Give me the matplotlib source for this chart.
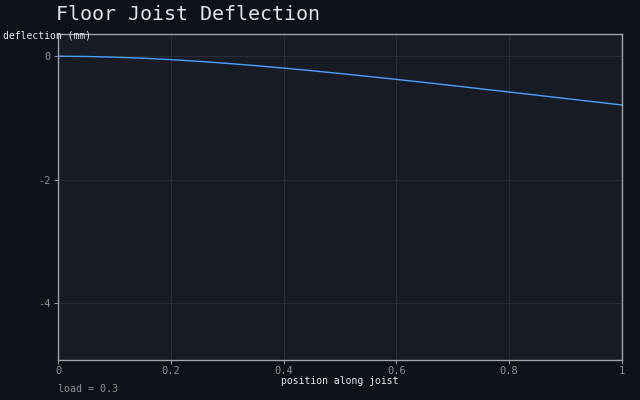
import matplotlib
matplotlib.use("Agg")
import matplotlib.pyplot as plt

# deflection readings along the joist
position = [0.0, 0.05, 0.1, 0.15, 0.2, 0.25, 0.3, 0.35, 0.4, 0.45, 0.5,
            0.55, 0.6, 0.65, 0.7, 0.75, 0.8, 0.85, 0.9, 0.95, 1.0]
deflection = [0.0, -0.004, -0.015, -0.032, -0.055, -0.083, -0.116, -0.152, -0.192, -0.235, -0.280,
              -0.327, -0.375, -0.425, -0.476, -0.528, -0.580, -0.632, -0.685, -0.737, -0.790]
x_ticks = [0, 0.2, 0.4, 0.6, 0.8, 1]
x_tick_labels = ["0", "0.2", "0.4", "0.6", "0.8", "1"]
y_ticks = [0, -2, -4]
load = 0.3

plt.rcParams['font.family'] = ['DejaVu Sans Mono']

fig = plt.figure(figsize=(6.4, 4.0), dpi=100, facecolor='#0d1118')
ax = fig.add_axes([58/640, 40/400, 564/640, 326/400])
ax.set_facecolor('#171c24')

ax.plot(position, deflection, color='#4a9eff', linewidth=1.0)

ax.set_xlim(0, 1)
ax.set_ylim(-4.92, 0.36)
ax.set_xticks(x_ticks)
ax.set_xticklabels(x_tick_labels)
ax.set_yticks(y_ticks)
ax.set_yticklabels([str(v) for v in y_ticks])
ax.grid(True, color='#262c35', linewidth=0.8)
ax.tick_params(colors='#8a9099', labelsize=7.5, length=3, width=0.8, pad=2)
ax.tick_params(axis='x', pad=1)
for s in ax.spines.values():
    s.set_color('#9da3ab')
    s.set_linewidth(1.0)

ax.set_xlabel("position along joist", color='#e6eaf0', fontsize=7, labelpad=0.5)
fig.text(3/640, 1 - 36/400, "deflection (mm)", color='#e6eaf0', fontsize=7, va='center', ha='left')
fig.text(58/640, 1 - 389/400, "load = %.1f" % load, color='#8a9099', fontsize=7.2, va='center', ha='left')
fig.text(56/640, 1 - 14/400, "Floor Joist Deflection", color='#dde3ea', fontsize=14.4,
         va='center', ha='left')

fig.savefig("out.png", dpi=100, facecolor=fig.get_facecolor())
